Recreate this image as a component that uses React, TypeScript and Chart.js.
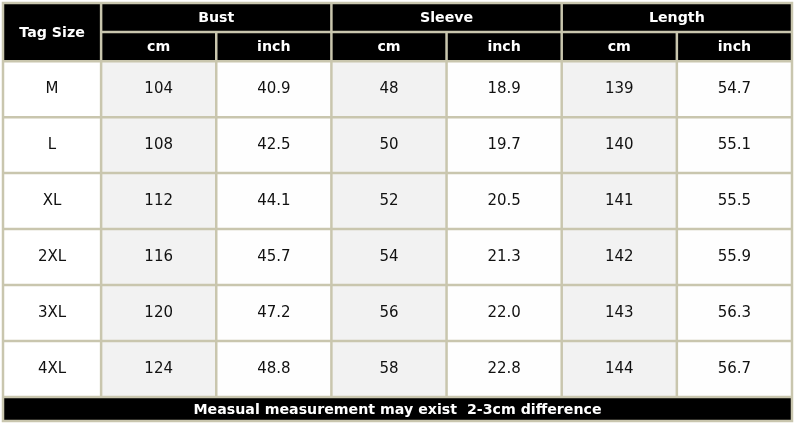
import { useEffect, useRef } from 'react';
import { Chart, registerables } from 'chart.js';

Chart.register(...registerables);

// ---- data ----
const tagHeader = 'Tag Size';
const groups = ['Bust', 'Sleeve', 'Length'];
const units = ['cm', 'inch'];
const sizes = ['M', 'L', 'XL', '2XL', '3XL', '4XL'];
const bustCm = [104, 108, 112, 116, 120, 124];
const bustInch = [40.9, 42.5, 44.1, 45.7, 47.2, 48.8];
const sleeveCm = [48, 50, 52, 54, 56, 58];
const sleeveInch = [18.9, 19.7, 20.5, 21.3, 22.0, 22.8];
const lengthCm = [139, 140, 141, 142, 143, 144];
const lengthInch = [54.7, 55.1, 55.5, 55.9, 56.3, 56.7];
const footnote = 'Measual measurement may exist  2-3cm difference';

// ---- layout (relative units) ----
const TAG_W = 0.852;
const HEAD_H = 0.52;
const FOOT_H = 0.43;
const BORDER = '#c9c6ae';
const CM_BG = '#f2f2f2';
const INCH_BG = '#fefefe';
const HEAD_FONT = 'bold 14.2px "DejaVu Sans", Verdana, sans-serif';
const CELL_FONT = '15px "DejaVu Sans", Verdana, sans-serif';

const groupData = [
  [bustCm, bustInch],
  [sleeveCm, sleeveInch],
  [lengthCm, lengthInch],
];

const rows = sizes.map((s, i) => {
  const cells: string[] = [s];
  groupData.forEach(([cm, inch]) => {
    cells.push(String(cm[i]));
    cells.push(inch[i].toFixed(1));
  });
  return cells;
});

const nCols = groups.length * units.length;
const colEdges = [0, ...Array.from({ length: nCols + 1 }, (_, k) => TAG_W + k)];
const bodyTop = 2 * HEAD_H;
const rowEdges = Array.from({ length: sizes.length + 1 }, (_, r) => bodyTop + r);
const yMax = bodyTop + sizes.length + FOOT_H;

const tablePlugin = {
  id: 'sizeTable',
  beforeDatasetsDraw(chart: any) {
    const ctx = chart.ctx as CanvasRenderingContext2D;
    const xs = chart.scales.x;
    const ys = chart.scales.y;
    const px = (v: number) => xs.getPixelForValue(v);
    const py = (v: number) => ys.getPixelForValue(v);
    const xL = px(0), xR = px(colEdges[colEdges.length - 1]);
    const yT = py(0), yB = py(yMax);
    const yBody = py(bodyTop), yFoot = py(bodyTop + sizes.length);

    ctx.save();
    // header & footer backgrounds
    ctx.fillStyle = '#000';
    ctx.fillRect(xL, yT, xR - xL, yBody - yT);
    ctx.fillRect(xL, yFoot, xR - xL, yB - yFoot);
    // body column backgrounds
    for (let c = 0; c < colEdges.length - 1; c++) {
      ctx.fillStyle = c === 0 ? '#ffffff' : (c % 2 === 1 ? CM_BG : INCH_BG);
      ctx.fillRect(px(colEdges[c]), yBody, px(colEdges[c + 1]) - px(colEdges[c]), yFoot - yBody);
    }

    // grid lines
    ctx.strokeStyle = BORDER;
    ctx.lineWidth = 2.5;
    const line = (x1: number, y1: number, x2: number, y2: number) => {
      ctx.beginPath();
      ctx.moveTo(x1, y1);
      ctx.lineTo(x2, y2);
      ctx.stroke();
    };
    ctx.strokeRect(xL, yT, xR - xL, yB - yT);
    for (let c = 1; c < colEdges.length - 1; c++) {
      const x = px(colEdges[c]);
      const isGroupEdge = (c - 1) % 2 === 0;
      line(x, isGroupEdge ? yT : py(HEAD_H), x, yFoot);
    }
    line(px(colEdges[1]), py(HEAD_H), xR, py(HEAD_H));
    rowEdges.forEach((r) => line(xL, py(r), xR, py(r)));

    // header text
    ctx.textAlign = 'center';
    ctx.textBaseline = 'middle';
    ctx.fillStyle = '#ffffff';
    ctx.font = HEAD_FONT;
    ctx.fillText(tagHeader, (px(colEdges[0]) + px(colEdges[1])) / 2, (yT + yBody) / 2 + 1);
    groups.forEach((g, gi) => {
      const a = px(colEdges[1 + gi * 2]);
      const b = px(colEdges[3 + gi * 2]);
      ctx.fillText(g, (a + b) / 2, (yT + py(HEAD_H)) / 2 + 1);
      units.forEach((u, ui) => {
        const c = 1 + gi * 2 + ui;
        ctx.fillText(u, (px(colEdges[c]) + px(colEdges[c + 1])) / 2, (py(HEAD_H) + yBody) / 2 + 1);
      });
    });

    // body text
    ctx.fillStyle = '#111111';
    ctx.font = CELL_FONT;
    rows.forEach((cells, r) => {
      const yc = (py(rowEdges[r]) + py(rowEdges[r + 1])) / 2;
      cells.forEach((t, c) => {
        ctx.fillText(t, (px(colEdges[c]) + px(colEdges[c + 1])) / 2, yc);
      });
    });

    // footer text
    ctx.fillStyle = '#ffffff';
    ctx.font = HEAD_FONT;
    ctx.fillText(footnote, (xL + xR) / 2, (yFoot + yB) / 2 + 1);
    ctx.restore();
  },
};

export default function App() {
  const ref = useRef<HTMLCanvasElement>(null);
  useEffect(() => {
    document.body.style.margin = '0';
    const canvas = ref.current!;
    const points = rows.flatMap((cells, r) =>
      cells.map((_, c) => ({ x: (colEdges[c] + colEdges[c + 1]) / 2, y: rowEdges[r] + 0.5 }))
    );
    const chart = new Chart(canvas, {
      type: 'scatter',
      data: { datasets: [{ data: points, pointRadius: 0, pointHoverRadius: 0 }] },
      options: {
        animation: false,
        responsive: false,
        events: [],
        layout: { padding: { left: 3, right: 3, top: 3, bottom: 3 } },
        plugins: { legend: { display: false }, tooltip: { enabled: false } },
        scales: {
          x: { type: 'linear', display: false, min: 0, max: colEdges[colEdges.length - 1] },
          y: { type: 'linear', display: false, min: 0, max: yMax, reverse: true },
        },
      },
      plugins: [tablePlugin],
    });
    return () => chart.destroy();
  }, []);
  return (
    <div style={{ width: 795, height: 424, background: '#fff' }}>
      <canvas ref={ref} width={795} height={424} />
    </div>
  );
}
